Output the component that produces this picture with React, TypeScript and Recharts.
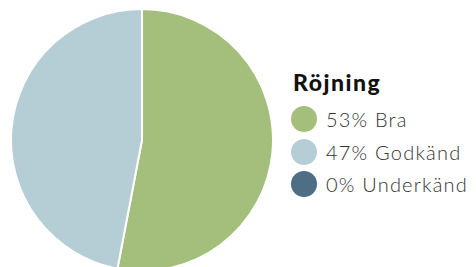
import { PieChart, Pie, Cell, Legend } from 'recharts'

const categories = ['Bra', 'Godkänd', 'Underkänd']
const values = [53, 47, 0]
const colors = ['#a4bf7b', '#b5ced6', '#4d6e84']
const title = 'Röjning'

const data = categories.map((name, i) => ({ name, value: values[i] }))

function RojningLegend() {
  return (
    <div style={{ fontFamily: 'Lato, sans-serif' }}>
      <div
        style={{
          fontWeight: 900,
          fontSize: 23,
          letterSpacing: 1.5,
          color: '#111',
          lineHeight: '24px',
          marginBottom: 9,
          marginLeft: 2,
        }}
      >
        {title}
      </div>
      {data.map((d, i) => (
        <div key={d.name} style={{ display: 'flex', alignItems: 'center', height: 32.5 }}>
          <span
            style={{
              display: 'inline-block',
              width: 26,
              height: 26,
              borderRadius: '50%',
              background: colors[i],
              marginRight: 9,
            }}
          />
          <span style={{ fontSize: 20, fontWeight: 300, letterSpacing: 1.2, color: '#333' }}>
            {d.value}% {d.name}
          </span>
        </div>
      ))}
    </div>
  )
}

export default function App() {
  return (
    <div style={{ position: 'absolute', left: 0, top: 0, width: 476, height: 267, background: '#fff' }}>
      <PieChart width={476} height={267} margin={{ top: 0, right: 0, bottom: 0, left: 0 }}>
        <Pie
          data={data}
          dataKey="value"
          nameKey="name"
          cx={142}
          cy={140}
          outerRadius={131}
          startAngle={90}
          endAngle={-270}
          stroke="#fff"
          strokeWidth={2}
          isAnimationActive={false}
        >
          {data.map((d, i) => (
            <Cell key={d.name} fill={colors[i]} />
          ))}
        </Pie>
        <Legend
          content={<RojningLegend />}
          layout="vertical"
          wrapperStyle={{ left: 291, top: 70, width: 185 }}
        />
      </PieChart>
    </div>
  )
}
